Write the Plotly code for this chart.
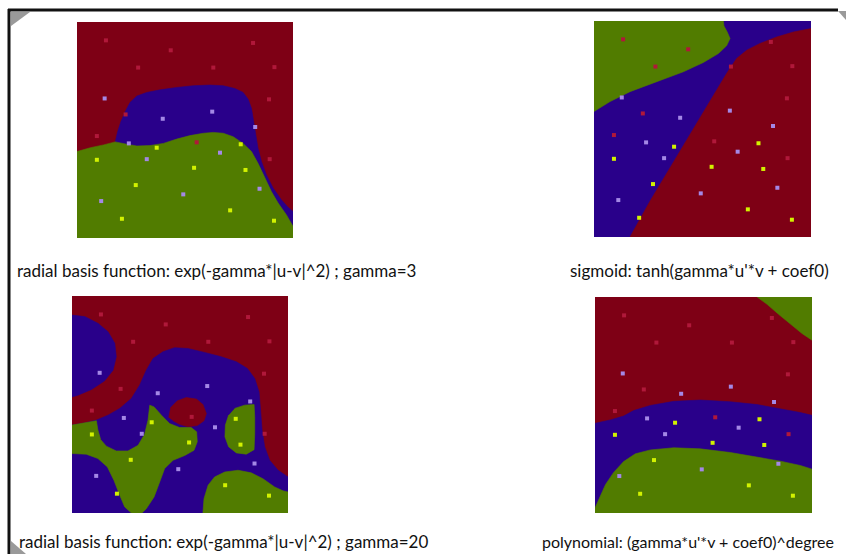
import plotly.graph_objects as go

# ---------------- data (normalised 0..1 panel coordinates) ----------------
# training points (same in all four panels)
red_u = [0.134, 0.434, 0.815, 0.283, 0.631, 0.914, 0.889, 0.225, 0.092, 0.554, 0.892]
red_v = [0.915, 0.869, 0.903, 0.789, 0.789, 0.791, 0.642, 0.572, 0.472, 0.443, 0.365]
blue_u = [0.128, 0.397, 0.626, 0.825, 0.240, 0.662, 0.323, 0.845, 0.492, 0.112]
blue_v = [0.646, 0.552, 0.585, 0.514, 0.438, 0.395, 0.365, 0.228, 0.202, 0.171]
green_u = [0.092, 0.369, 0.758, 0.542, 0.780, 0.272, 0.208, 0.709, 0.912]
green_v = [0.362, 0.418, 0.434, 0.325, 0.315, 0.245, 0.089, 0.128, 0.080]

# panel 1: RBF gamma=3
rbf3_blue_u = [0.177, 0.188, 0.203, 0.223, 0.246, 0.277, 0.323, 0.385, 0.462, 0.538, 0.615, 0.677,
               0.731, 0.769, 0.792, 0.808, 0.818, 0.828, 0.838, 0.854, 0.877, 0.908, 0.946, 0.977,
               1.0, 1.0, 0.177]
rbf3_blue_v = [0.445, 0.492, 0.538, 0.585, 0.628, 0.657, 0.674, 0.686, 0.697, 0.705, 0.708, 0.705,
               0.692, 0.674, 0.643, 0.600, 0.538, 0.477, 0.415, 0.354, 0.292, 0.231, 0.177, 0.142,
               0.123, 0.0, 0.0]
rbf3_green_u = [0.0, 0.062, 0.123, 0.177, 0.231, 0.277, 0.338, 0.400, 0.462, 0.523, 0.585, 0.631,
                0.677, 0.723, 0.769, 0.808, 0.838, 0.869, 0.900, 0.931, 0.969, 1.0, 1.0, 0.0]
rbf3_green_v = [0.400, 0.418, 0.431, 0.445, 0.434, 0.426, 0.428, 0.438, 0.458, 0.474, 0.485, 0.489,
                0.485, 0.469, 0.438, 0.400, 0.346, 0.277, 0.215, 0.162, 0.108, 0.054, 0.0, 0.0]

# panel 2: sigmoid
sig_green_u = [0.0, 0.074, 0.166, 0.289, 0.412, 0.504, 0.573, 0.611, 0.627, 0.614, 0.599, 0.596, 0.0]
sig_green_v = [0.581, 0.627, 0.673, 0.719, 0.765, 0.808, 0.849, 0.885, 0.919, 0.949, 0.977, 1.0, 1.0]
sig_red_u = [0.166, 0.258, 0.350, 0.442, 0.535, 0.611, 0.657, 0.704, 0.765, 0.842, 0.919, 1.0, 1.0]
sig_red_v = [0.0, 0.166, 0.320, 0.473, 0.630, 0.757, 0.826, 0.865, 0.896, 0.926, 0.949, 0.965, 0.0]

# panel 3: RBF gamma=20
rbf20_blob_u = [0.0, 0.059, 0.120, 0.167, 0.198, 0.205, 0.190, 0.151, 0.090, 0.028, 0.0]
rbf20_blob_v = [0.912, 0.905, 0.874, 0.835, 0.782, 0.720, 0.658, 0.609, 0.569, 0.543, 0.535]
rbf20_blue_u = [0.0, 0.059, 0.113, 0.167, 0.221, 0.275, 0.313, 0.344, 0.375, 0.421, 0.475, 0.537,
                0.614, 0.691, 0.761, 0.812, 0.846, 0.866, 0.873, 0.880, 0.892, 0.915, 0.954, 1.0,
                1.0, 0.0]
rbf20_blue_v = [0.405, 0.415, 0.428, 0.451, 0.482, 0.528, 0.589, 0.658, 0.712, 0.743, 0.762, 0.758,
                0.740, 0.720, 0.697, 0.666, 0.620, 0.558, 0.474, 0.382, 0.305, 0.243, 0.197, 0.166,
                0.0, 0.0]
rbf20_island_u = [0.448, 0.457, 0.488, 0.529, 0.576, 0.606, 0.622, 0.611, 0.580, 0.537, 0.498, 0.468]
rbf20_island_v = [0.440, 0.486, 0.517, 0.532, 0.525, 0.500, 0.458, 0.425, 0.403, 0.397, 0.409, 0.425]
rbf20_g1_u = [0.0, 0.059, 0.113, 0.120, 0.133, 0.159, 0.205, 0.259, 0.306, 0.336, 0.352, 0.360,
              0.380, 0.414, 0.452, 0.498, 0.552, 0.577, 0.580, 0.565, 0.522, 0.468, 0.429, 0.406,
              0.380, 0.344, 0.324, 0.275, 0.244, 0.221, 0.194, 0.164, 0.120, 0.066, 0.0]
rbf20_g1_v = [0.405, 0.415, 0.425, 0.382, 0.338, 0.308, 0.286, 0.286, 0.312, 0.363, 0.428, 0.497,
              0.489, 0.451, 0.412, 0.394, 0.394, 0.374, 0.328, 0.289, 0.265, 0.243, 0.205, 0.143,
              0.074, 0.020, 0.0, 0.0, 0.028, 0.082, 0.151, 0.212, 0.251, 0.271, 0.274]
rbf20_g2_u = [0.753, 0.799, 0.843, 0.846, 0.846, 0.843, 0.807, 0.761, 0.725, 0.708, 0.710, 0.725]
rbf20_g2_v = [0.482, 0.497, 0.500, 0.443, 0.366, 0.292, 0.271, 0.277, 0.305, 0.351, 0.405, 0.451]
rbf20_g3_u = [0.606, 0.611, 0.630, 0.660, 0.707, 0.769, 0.830, 0.884, 0.938, 0.977, 1.0, 1.0]
rbf20_g3_v = [0.0, 0.066, 0.128, 0.166, 0.189, 0.197, 0.185, 0.158, 0.120, 0.102, 0.097, 0.0]

# panel 4: polynomial
poly_blue_u = [0.0, 0.071, 0.132, 0.178, 0.255, 0.363, 0.485, 0.624, 0.747, 0.854, 0.946, 1.0, 1.0, 0.0]
poly_blue_v = [0.415, 0.431, 0.449, 0.474, 0.498, 0.517, 0.523, 0.515, 0.502, 0.483, 0.465, 0.452, 0.0, 0.0]
poly_green_u = [0.0, 0.022, 0.048, 0.086, 0.132, 0.186, 0.255, 0.363, 0.485, 0.624, 0.747, 0.854,
                0.946, 1.0, 1.0, 0.0]
poly_green_v = [0.023, 0.074, 0.131, 0.188, 0.238, 0.274, 0.292, 0.302, 0.297, 0.280, 0.258, 0.240,
                0.220, 0.203, 0.0, 0.0]
poly_corner_u = [0.747, 0.793, 0.846, 0.900, 0.954, 1.0, 1.0]
poly_corner_v = [1.0, 0.966, 0.920, 0.874, 0.831, 0.800, 1.0]

captions = [
    "radial basis function: exp(-gamma*|u-v|^2) ; gamma=3",
    "sigmoid: tanh(gamma*u'*v + coef0)",
    "radial basis function: exp(-gamma*|u-v|^2) ; gamma=20",
    "polynomial: (gamma*u'*v + coef0)^degree",
]

# ---------------- styling ----------------
RED = "#7E0015"
BLUE = "#29008A"
GREEN = "#517C00"
PT_RED = "#B0183A"
PT_BLUE = "#A488E6"
PT_GREEN = "#D2F200"

W, H = 846, 554
# panel pixel boxes (left, top, right, bottom)
boxes = [(77, 22, 293, 238), (594, 21, 811, 237), (72, 296, 288, 513), (595, 297, 812, 513)]
backgrounds = [RED, BLUE, RED, RED]

panels = [
    [(rbf3_blue_u, rbf3_blue_v, BLUE), (rbf3_green_u, rbf3_green_v, GREEN)],
    [(sig_green_u, sig_green_v, GREEN), (sig_red_u, sig_red_v, RED)],
    [(rbf20_blob_u, rbf20_blob_v, BLUE), (rbf20_blue_u, rbf20_blue_v, BLUE),
     (rbf20_island_u, rbf20_island_v, RED), (rbf20_g1_u, rbf20_g1_v, GREEN),
     (rbf20_g2_u, rbf20_g2_v, GREEN), (rbf20_g3_u, rbf20_g3_v, GREEN)],
    [(poly_blue_u, poly_blue_v, BLUE), (poly_green_u, poly_green_v, GREEN),
     (poly_corner_u, poly_corner_v, GREEN)],
]

fig = go.Figure()
layout = dict(width=W, height=H, margin=dict(l=0, r=0, t=0, b=0),
              paper_bgcolor="white", plot_bgcolor="white", showlegend=False)
shapes = []
for i, (box, bg, polys) in enumerate(zip(boxes, backgrounds, panels)):
    n = "" if i == 0 else str(i + 1)
    xa, ya = "x" + n, "y" + n
    l, t, r, b = box
    layout["xaxis" + n] = dict(domain=[l / W, r / W], range=[0, 1], visible=False, fixedrange=True)
    layout["yaxis" + n] = dict(domain=[1 - b / H, 1 - t / H], range=[0, 1], visible=False, fixedrange=True)
    shapes.append(dict(type="rect", xref=xa + " domain", yref=ya + " domain", x0=0, x1=1, y0=0, y1=1,
                       fillcolor=bg, line=dict(width=0), layer="below"))
    for (pu, pv, col) in polys:
        fig.add_trace(go.Scatter(x=pu, y=pv, xaxis=xa, yaxis=ya, mode="lines", fill="toself",
                                 fillcolor=col, line=dict(width=0.6, color=col), hoverinfo="skip"))
    for (pu, pv, col) in [(red_u, red_v, PT_RED), (blue_u, blue_v, PT_BLUE), (green_u, green_v, PT_GREEN)]:
        fig.add_trace(go.Scatter(x=pu, y=pv, xaxis=xa, yaxis=ya, mode="markers",
                                 marker=dict(symbol="square", size=4, color=col, line=dict(width=0))))

# window frame
shapes += [
    dict(type="line", xref="paper", yref="paper", x0=8 / W, x1=838 / W, y0=1 - 10 / H, y1=1 - 10 / H,
         line=dict(color="#111111", width=3)),
    dict(type="line", xref="paper", yref="paper", x0=9 / W, x1=9 / W, y0=0, y1=1 - 9 / H,
         line=dict(color="#111111", width=3)),
    dict(type="path", xref="paper", yref="paper",
         path=f"M {11/W} {1-12/H} L {30/W} {1-12/H} L {11/W} {1-26/H} Z",
         fillcolor="#9a9a9a", line=dict(width=0)),
    dict(type="path", xref="paper", yref="paper",
         path=f"M {838/W} {1-11/H} L {846/W} {1-11/H} L {846/W} {1-20/H} Z",
         fillcolor="#9a9a9a", line=dict(width=0)),
    dict(type="path", xref="paper", yref="paper",
         path=f"M {11/W} {1-541/H} L {11/W} 0 L {26/W} 0 Z",
         fillcolor="#9a9a9a", line=dict(width=0)),
]
layout["shapes"] = shapes

cap_pos = [(15, 270), (568, 270), (17, 541), (540, 541)]
cap_size = [17, 17, 17, 16]
annots = []
for txt, (px, py), fs in zip(captions, cap_pos, cap_size):
    annots.append(dict(text=txt, xref="paper", yref="paper", x=px / W, y=1 - py / H,
                       xanchor="left", yanchor="middle", showarrow=False,
                       font=dict(family="Lato, Open Sans, sans-serif", size=fs, color="#111111")))
layout["annotations"] = annots

fig.update_layout(**layout)
fig.write_html("out.html", config={"displayModeBar": False},
               post_script="document.body.style.margin='0px';document.body.style.overflow='hidden';")
